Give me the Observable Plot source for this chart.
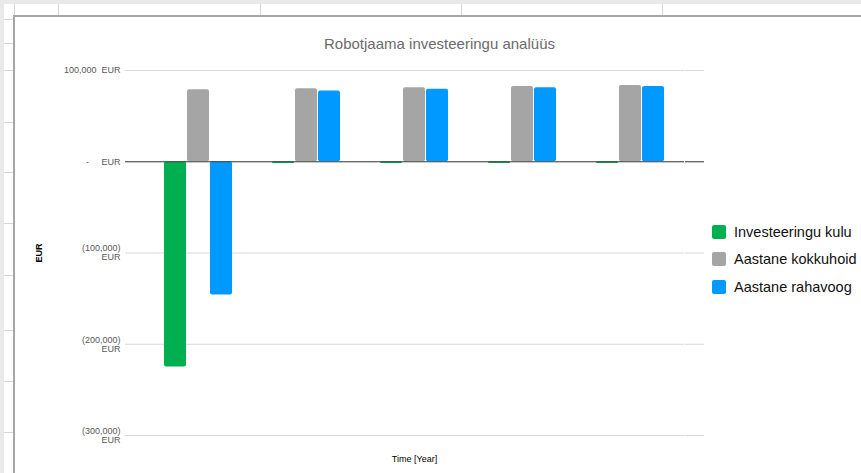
<!DOCTYPE html>
<html>
<head>
<meta charset="utf-8">
<script src="https://cdn.jsdelivr.net/npm/d3@7"></script>
<script src="https://cdn.jsdelivr.net/npm/@observablehq/plot@0.6"></script>
<style>
  body { margin: 0; background: #fff; }
  #wrap { position: relative; width: 861px; height: 473px; overflow: hidden; background: #fff; font-family: "Liberation Sans", Arial, sans-serif; }
  .strip { position: absolute; background: #e9e9e9; }
  .vl { position: absolute; top: 4px; width: 1px; height: 11px; background: #d6d6d6; }
  .hl { position: absolute; left: 4px; width: 9px; height: 1px; background: #d6d6d6; }
  #box { position: absolute; left: 13px; top: 15px; right: 0; bottom: 0; background: #fff; border-left: 2px solid #a6a6a6; border-top: 2px solid #a6a6a6; }
  #title { position: absolute; left: 0; top: 35px; width: 879px; text-align: center; font-size: 15px; color: #6b6b6b; }
  #chart { position: absolute; left: 0; top: 0; }
  #chart svg text { white-space: pre; }
  #chart g[aria-label="y-axis label"] text { fill: #000; font-weight: bold; }
  #chart g[aria-label="fx-axis label"] text { fill: #000; }
  #legend { position: absolute; left: 712px; top: 218px; font-size: 14.5px; color: #111; }
  .item { display: flex; align-items: center; height: 27.5px; }
  .sw { width: 14px; height: 14px; border-radius: 2px; margin-right: 8px; }
</style>
</head>
<body>
<div id="wrap">
  <div class="strip" style="left:0;top:0;width:861px;height:4px;"></div>
  <div class="strip" style="left:0;top:0;width:4px;height:473px;"></div>
  <div class="vl" style="left:14px"></div>
  <div class="vl" style="left:58px"></div>
  <div class="vl" style="left:260px"></div>
  <div class="vl" style="left:461px"></div>
  <div class="vl" style="left:662px"></div>
  <div class="hl" style="top:19px"></div>
  <div class="hl" style="top:43px"></div>
  <div class="hl" style="top:70px"></div>
  <div class="hl" style="top:122px"></div>
  <div class="hl" style="top:172px"></div>
  <div class="hl" style="top:223px"></div>
  <div class="hl" style="top:275px"></div>
  <div class="hl" style="top:330px"></div>
  <div class="hl" style="top:381px"></div>
  <div class="hl" style="top:432px"></div>
  <div id="box"></div>
  <div id="title">Robotjaama investeeringu analüüs</div>
  <div id="chart"></div>
  <div id="legend"></div>
</div>
<script>
const years = ["1", "2", "3", "4", "5"];
const seriesNames = ["Investeeringu kulu", "Aastane kokkuhoid", "Aastane rahavoog"];
const investeeringuKulu = [-225000, -2000, -2000, -2000, -2000];
const aastaneKokkuhoid = [79000, 80000, 81000, 82500, 83500];
const aastaneRahavoog = [-146000, 77500, 79500, 81000, 82500];
const seriesColors = ["#00b050", "#a5a5a5", "#0099ff"];
const yTicks = [100000, 0, -100000, -200000, -300000];
const yLabel = "EUR";
const xLabel = "Time [Year]";

const seriesValues = [investeeringuKulu, aastaneKokkuhoid, aastaneRahavoog];
const rows = years.flatMap((yr, i) => seriesNames.map((s, k) => ({year: yr, series: s, value: seriesValues[k][i]})));

const num = d3.format(",");
const fmt = v => v === 0 ? "-     EUR" : v > 0 ? num(v) + "  EUR" : "(" + num(-v) + ")\nEUR";
const gridColor = "#d9d9d9";
const zeroColor = "#404040";
const overhang = 19;

const chart = Plot.plot({
  width: 861,
  height: 473,
  marginLeft: 143,
  marginRight: 176,
  marginTop: 70,
  marginBottom: 38,
  style: {background: "transparent", fontFamily: "Liberation Sans, Arial, sans-serif", fontSize: "9px", color: "#595959"},
  fx: {domain: years, padding: 0},
  x: {domain: seriesNames, paddingInner: 0.05, paddingOuter: 0.81, axis: null},
  y: {domain: [-300000, 100000]},
  color: {domain: seriesNames, range: seriesColors},
  marks: [
    Plot.gridY(yTicks, {stroke: gridColor, strokeOpacity: 1}),
    Plot.axisY(yTicks, {anchor: "left", tickFormat: fmt, tickSize: overhang, tickPadding: 5, stroke: gridColor, strokeOpacity: 1, label: yLabel, labelAnchor: "center", labelArrow: "none", labelOffset: 109, fill: "#595959"}),
    Plot.axisY(yTicks, {anchor: "right", tickFormat: null, text: null, tickSize: overhang, stroke: gridColor, strokeOpacity: 1, label: null}),
    Plot.axisY([0], {anchor: "left", tickFormat: null, text: null, tickSize: overhang, stroke: zeroColor, strokeOpacity: 1, label: null}),
    Plot.axisY([0], {anchor: "right", tickFormat: null, text: null, tickSize: overhang, stroke: zeroColor, strokeOpacity: 1, label: null}),
    Plot.axisFx({anchor: "bottom", tickFormat: () => "", tickSize: 0, label: xLabel, labelAnchor: "center", labelArrow: "none", labelOffset: 26, fill: "#000"}),
    Plot.barY(rows, {fx: "year", x: "series", y: "value", fill: "series", rx: 2}),
    Plot.ruleY([0], {stroke: zeroColor, strokeWidth: 1})
  ]
});
document.getElementById("chart").appendChild(chart);

const legend = document.getElementById("legend");
seriesNames.forEach((s, k) => {
  const item = document.createElement("div");
  item.className = "item";
  const sw = document.createElement("div");
  sw.className = "sw";
  sw.style.background = seriesColors[k];
  const t = document.createElement("span");
  t.textContent = s;
  item.appendChild(sw);
  item.appendChild(t);
  legend.appendChild(item);
});
</script>
</body>
</html>
